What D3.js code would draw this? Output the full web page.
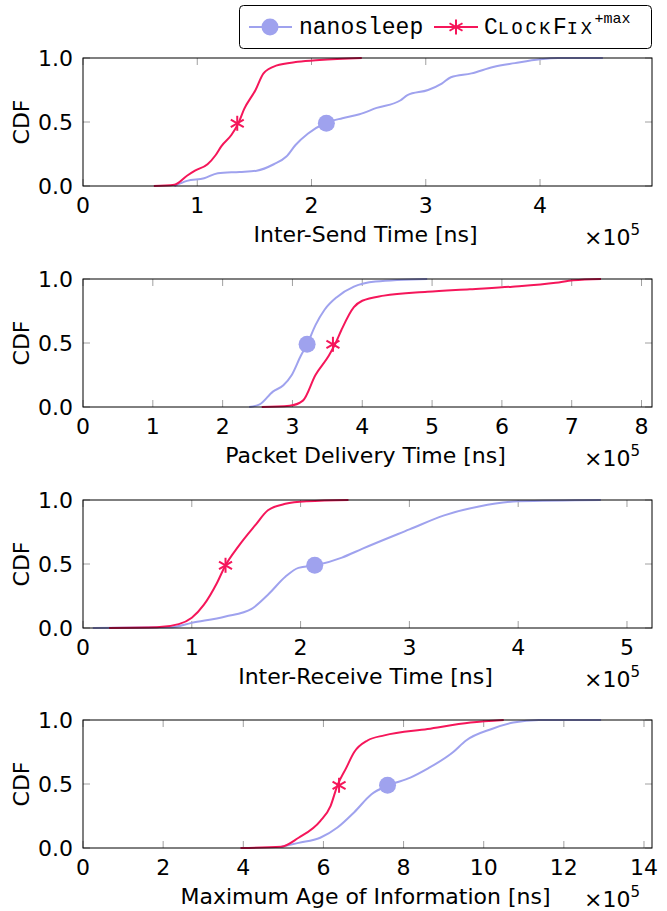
<!DOCTYPE html>
<html>
<head>
<meta charset="utf-8">
<script src="https://cdn.jsdelivr.net/npm/d3@7"></script>
<style>
  body { margin: 0; background: #fff; }
  text { font-family: "DejaVu Sans", sans-serif; }
  text.tt { font-family: "Liberation Mono", monospace; }
</style>
</head>
<body>
<div id="chart"></div>
<script>
// CDF samples, x in units of 1e5 ns
const sendNano = [[0.80,0],[0.91,0.04],[1.06,0.06],[1.18,0.10],[1.37,0.11],[1.52,0.12],[1.67,0.17],[1.78,0.23],[1.86,0.32],[1.97,0.41],[2.12,0.49],[2.27,0.53],[2.42,0.56],[2.57,0.61],[2.78,0.67],[2.84,0.71],[3.02,0.75],[3.14,0.80],[3.22,0.85],[3.40,0.88],[3.59,0.93],[3.78,0.96],[4.00,0.99],[4.16,1.0],[4.55,1.0]];
const sendClock = [[0.62,0],[0.80,0.01],[0.91,0.08],[0.98,0.12],[1.09,0.17],[1.16,0.24],[1.21,0.31],[1.30,0.40],[1.36,0.49],[1.41,0.60],[1.51,0.75],[1.58,0.88],[1.69,0.94],[1.88,0.97],[2.07,0.985],[2.44,1.0]];
const deliveryNano = [[2.38,0],[2.53,0.02],[2.72,0.12],[2.87,0.17],[2.99,0.25],[3.12,0.40],[3.21,0.49],[3.33,0.64],[3.46,0.76],[3.64,0.86],[3.88,0.94],[4.19,0.98],[4.93,1.0]];
const deliveryClock = [[2.56,0],[2.96,0.01],[3.15,0.05],[3.33,0.25],[3.52,0.40],[3.61,0.49],[3.70,0.60],[3.88,0.78],[4.00,0.83],[4.31,0.87],[4.93,0.90],[5.54,0.92],[6.15,0.94],[6.77,0.97],[7.02,0.99],[7.42,1.0]];
const receiveNano = [[0.09,0],[0.80,0.005],[1.00,0.04],[1.31,0.09],[1.55,0.15],[1.70,0.26],[1.86,0.40],[1.98,0.47],[2.14,0.49],[2.38,0.55],[2.57,0.62],[3.00,0.77],[3.32,0.88],[3.64,0.95],[4.00,0.99],[4.76,1.0]];
const receiveClock = [[0.24,0],[0.68,0.005],[0.88,0.03],[1.00,0.08],[1.11,0.18],[1.23,0.35],[1.31,0.49],[1.43,0.64],[1.59,0.81],[1.70,0.92],[1.86,0.97],[2.06,0.99],[2.44,1.0]];
const ageNano = [[4.95,0.01],[5.38,0.04],[5.92,0.08],[6.35,0.16],[6.77,0.28],[7.20,0.42],[7.63,0.49],[8.17,0.55],[8.60,0.62],[9.24,0.75],[9.56,0.84],[10.2,0.93],[10.74,0.98],[11.38,1.0],[12.93,1.0]];
const ageClock = [[3.93,0],[4.95,0.01],[5.38,0.08],[5.92,0.21],[6.18,0.33],[6.35,0.49],[6.56,0.62],[6.77,0.75],[7.10,0.84],[7.52,0.88],[8.60,0.93],[9.67,0.98],[10.5,1.0]];

// median markers
const nanoMarks = [2.13, 3.21, 2.13, 7.60];
const clockMarks = [1.35, 3.58, 1.31, 6.39];
const markY = 0.49;

const xLabels = ["Inter-Send Time [ns]", "Packet Delivery Time [ns]", "Inter-Receive Time [ns]", "Maximum Age of Information [ns]"];
const xTickSets = [[0,1,2,3,4], [0,1,2,3,4,5,6,7,8], [0,1,2,3,4,5], [0,2,4,6,8,10,12,14]];
const xMaxes = [4.98, 8.15, 5.23, 14.2];
const yTicks = [0, 0.5, 1];
const seriesNames = ["nanosleep", "ClockFix"];

const blue = "#9fa2ee", red = "#f5165a";
const W = 667, H = 911;
const left = 83, right = 652, ph = 128;
const tops = [58, 279, 500, 720];

const svg = d3.select("#chart").append("svg")
    .attr("width", W).attr("height", H);

const nanoData = [sendNano, deliveryNano, receiveNano, ageNano];
const clockData = [sendClock, deliveryClock, receiveClock, ageClock];

function star(g, cx, cy, r) {
    for (let a of [90, 30, 150]) {
        const t = a * Math.PI / 180;
        g.append("line")
            .attr("x1", cx - r * Math.cos(t)).attr("y1", cy - r * Math.sin(t))
            .attr("x2", cx + r * Math.cos(t)).attr("y2", cy + r * Math.sin(t))
            .attr("stroke", red).attr("stroke-width", 2);
    }
}

xLabels.forEach((lab, i) => {
    const top = tops[i];
    const x = d3.scaleLinear().domain([0, xMaxes[i]]).range([left, right]);
    const y = d3.scaleLinear().domain([0, 1]).range([top + ph, top]);
    const g = svg.append("g");

    // inward tick marks on all four sides
    const tl = 7;
    g.selectAll(".xt").data(xTickSets[i]).enter().append("g").each(function(d) {
        const s = d3.select(this);
        s.append("line").attr("x1", x(d)).attr("x2", x(d)).attr("y1", top + ph).attr("y2", top + ph - tl);
        s.append("line").attr("x1", x(d)).attr("x2", x(d)).attr("y1", top).attr("y2", top + tl);
    }).selectAll("line").attr("stroke", "#a0a0a0").attr("stroke-width", 1);
    g.selectAll(".yt").data(yTicks).enter().append("g").each(function(d) {
        const s = d3.select(this);
        s.append("line").attr("x1", left).attr("x2", left + tl).attr("y1", y(d)).attr("y2", y(d));
        s.append("line").attr("x1", right).attr("x2", right - tl).attr("y1", y(d)).attr("y2", y(d));
    }).selectAll("line").attr("stroke", "#a0a0a0").attr("stroke-width", 1);

    const line = d3.line().x(d => x(d[0])).y(d => y(d[1])).curve(d3.curveMonotoneX);
    g.append("path").datum(nanoData[i]).attr("d", line)
        .attr("fill", "none").attr("stroke", blue).attr("stroke-width", 2);
    g.append("path").datum(clockData[i]).attr("d", line)
        .attr("fill", "none").attr("stroke", red).attr("stroke-width", 2);

    g.append("circle").attr("cx", x(nanoMarks[i])).attr("cy", y(markY)).attr("r", 8.5).attr("fill", blue);
    star(g, x(clockMarks[i]), y(markY), 7.5);

    // frame
    g.append("rect").attr("x", left).attr("y", top).attr("width", right - left).attr("height", ph)
        .attr("fill", "none").attr("stroke", "#000").attr("stroke-width", 1);

    // tick labels
    g.selectAll(".xl").data(xTickSets[i]).enter().append("text")
        .attr("x", d => x(d)).attr("y", top + ph + 27)
        .attr("text-anchor", "middle").attr("font-size", 22)
        .text(d => d);
    g.selectAll(".yl").data(yTicks).enter().append("text")
        .attr("x", left - 10).attr("y", d => y(d) + 8)
        .attr("text-anchor", "end").attr("font-size", 22)
        .text(d => d3.format(".1f")(d));

    g.append("text").attr("x", (left + right) / 2 - 2).attr("y", top + ph + 56)
        .attr("text-anchor", "middle").attr("font-size", 22).text(lab);
    const m = g.append("text").attr("x", 584).attr("y", top + ph + 59).attr("font-size", 22);
    m.append("tspan").text("×10");
    m.append("tspan").attr("dy", -10).attr("font-size", 15).text("5");

    g.append("text").attr("transform", `translate(29,${top + ph / 2}) rotate(-90)`)
        .attr("text-anchor", "middle").attr("font-size", 22).text("CDF");
});

// legend
const lg = svg.append("g");
lg.append("rect").attr("x", 239.5).attr("y", 5.5).attr("width", 412).attr("height", 43).attr("rx", 4)
    .attr("fill", "#fff").attr("stroke", "#000").attr("stroke-width", 1);
lg.append("line").attr("x1", 249).attr("x2", 292).attr("y1", 27).attr("y2", 27).attr("stroke", blue).attr("stroke-width", 2);
lg.append("circle").attr("cx", 270).attr("cy", 27).attr("r", 8.5).attr("fill", blue);
lg.append("text").attr("class", "tt").attr("x", 299).attr("y", 34)
    .attr("font-size", 23).text(seriesNames[0]);
lg.append("line").attr("x1", 434).attr("x2", 478).attr("y1", 27).attr("y2", 27).attr("stroke", red).attr("stroke-width", 2);
star(lg, 456, 27, 7.5);
const ct = lg.append("text").attr("class", "tt").attr("x", 484).attr("y", 34).attr("font-size", 23);
ct.append("tspan").text("C");
ct.append("tspan").attr("font-size", 18.5).attr("letter-spacing", 2.7).text("LOCK");
ct.append("tspan").text("F");
ct.append("tspan").attr("font-size", 18.5).attr("letter-spacing", 2.7).text("IX");
ct.append("tspan").attr("dy", -11).attr("font-size", 15).attr("letter-spacing", 0).text("+max");
</script>
</body>
</html>
